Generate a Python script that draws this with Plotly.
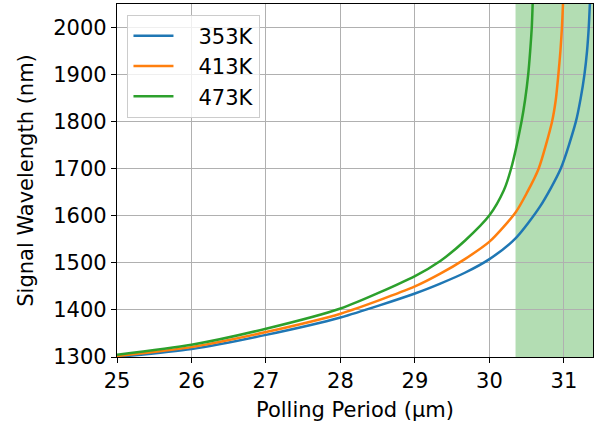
import plotly.graph_objects as go

# Polling period (um) and signal wavelength (nm)
x_353 = [25.0, 26.0, 27.0, 28.0, 29.0, 29.34, 29.67, 30.0, 30.35, 30.68, 30.956, 31.16, 31.225, 31.275, 31.31, 31.333, 31.348]
y_353 = [1300, 1317, 1347, 1384, 1435, 1456, 1479, 1508, 1552, 1620, 1700, 1800, 1850, 1900, 1950, 2000, 2050]

x_413 = [25.0, 26.0, 27.0, 28.0, 29.0, 29.34, 29.67, 30.0, 30.35, 30.5, 30.66, 30.84, 30.89, 30.925, 30.952, 30.973, 30.987]
y_413 = [1302, 1321, 1353, 1392, 1450, 1477, 1508, 1545, 1607, 1648, 1700, 1800, 1846, 1900, 1949, 2000, 2050]

x_473 = [25.0, 26.0, 27.0, 28.0, 29.0, 29.34, 29.67, 30.0, 30.19, 30.29, 30.43, 30.478, 30.52, 30.546, 30.568, 30.58]
y_473 = [1305, 1326, 1360, 1403, 1472, 1504, 1547, 1601, 1653, 1700, 1800, 1846, 1900, 1949, 2000, 2050]

labels = ["353K", "413K", "473K"]
colors = ["#1f77b4", "#ff7f0e", "#2ca02c"]

shade_start, shade_end = 30.35, 31.4
x_range = [25, 31.39]
y_range = [1300, 2050]
x_ticks = [25, 26, 27, 28, 29, 30, 31]
y_ticks = [1300, 1400, 1500, 1600, 1700, 1800, 1900, 2000]

FONT = "DejaVu Sans, sans-serif"
FS = 21

fig = go.Figure()
for xs, ys, lab, col in zip([x_353, x_413, x_473], [y_353, y_413, y_473], labels, colors):
    fig.add_trace(go.Scatter(x=xs, y=ys, mode="lines", name="   " + lab,
                             line=dict(color=col, width=2.5, shape="spline", smoothing=0.7)))

fig.add_vrect(x0=shade_start, x1=shade_end, fillcolor="rgba(44,160,44,0.36)",
              line_width=0, layer="below")

axis_common = dict(showline=True, linecolor="black", linewidth=1.2, mirror=True,
                   ticks="outside", ticklen=5, tickcolor="black", tickwidth=1.2,
                   showgrid=True, gridcolor="#b0b0b0", gridwidth=1.2, zeroline=False,
                   automargin=False,
                   tickfont=dict(family=FONT, size=FS, color="black"))

fig.update_xaxes(range=x_range, tickvals=x_ticks,
                 title=dict(text="Polling Period (μm)", font=dict(family=FONT, size=FS, color="black"), standoff=10),
                 **axis_common)
fig.update_yaxes(range=y_range, tickvals=y_ticks,
                 title=dict(text="Signal Wavelength (nm)", font=dict(family=FONT, size=FS, color="black"), standoff=13),
                 **axis_common)

fig.update_layout(
    width=594, height=429,
    margin=dict(l=117, r=1, t=4, b=72),
    plot_bgcolor="white", paper_bgcolor="white",
    font=dict(family=FONT, size=FS, color="black"),
    legend=dict(x=0.022, y=0.97, xanchor="left", yanchor="top",
                bgcolor="rgba(255,255,255,0.8)", bordercolor="#cccccc", borderwidth=1,
                font=dict(family=FONT, size=FS, color="black"), tracegroupgap=0,
                itemwidth=40),
    showlegend=True,
)

fig.write_html("out.html", config={"displayModeBar": False},
               post_script="document.body.style.margin='0';document.body.style.overflow='hidden';")
